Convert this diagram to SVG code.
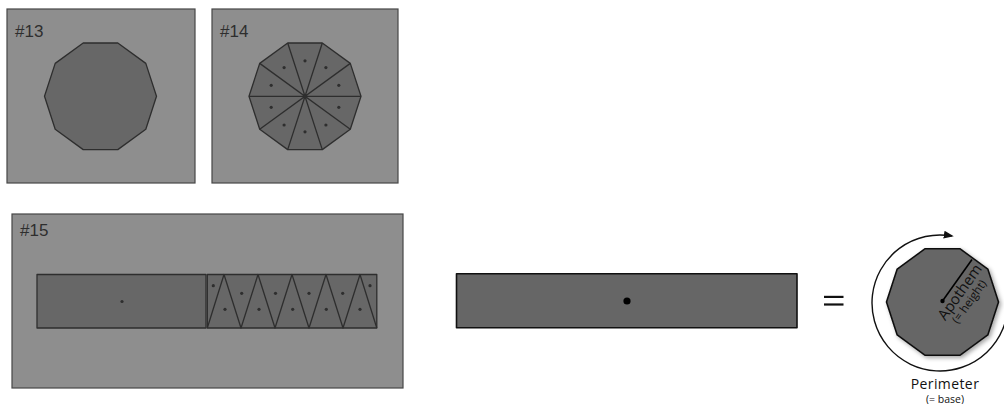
<svg xmlns="http://www.w3.org/2000/svg" width="1004" height="404" viewBox="0 0 1004 404">
<style>
.panel{fill:#8e8e8e;stroke:#474747;stroke-width:1.2}
.shape{fill:#676767;stroke:#2e2e2e;stroke-width:1.3;stroke-linejoin:round}
.line{fill:none;stroke:#2e2e2e;stroke-width:1.3;stroke-linejoin:round}
.dot{fill:#2e2e2e}
.tag{font-family:"Liberation Sans",Arial,sans-serif;font-size:17px;fill:#2e2e2e}
.lbl{font-family:"Open Sans","Noto Sans",sans-serif;fill:#111}
.big{fill:#666;stroke:#111;stroke-width:1.6;stroke-linejoin:round}
</style>
<defs>
<polygon id="deca" points="56,0 45.3,32.9 17.3,53.3 -17.3,53.3 -45.3,32.9 -56,0 -45.3,-32.9 -17.3,-53.3 17.3,-53.3 45.3,-32.9"/>
<marker id="ah" viewBox="0 0 10 10" refX="8" refY="5" markerWidth="10" markerHeight="10" markerUnits="userSpaceOnUse" orient="auto">
<path d="M0,1 L10,5 L0,9 Z" fill="#111"/>
</marker>
<filter id="sh" x="-20%" y="-20%" width="150%" height="150%">
<feDropShadow dx="2" dy="2" stdDeviation="2" flood-color="#000" flood-opacity="0.35"/>
</filter>
</defs>

<g id="panel13">
<rect class="panel" x="7" y="9" width="188" height="174"/>
<text class="tag" x="15" y="36.5">#13</text>
<use href="#deca" class="shape" transform="translate(100.5,96.3)"/>
</g>

<g id="panel14">
<rect class="panel" x="212" y="9" width="186" height="174"/>
<text class="tag" x="220" y="36.5">#14</text>
<g transform="translate(305,96.3)">
<use href="#deca" class="shape"/>
<path class="line" d="M-56,0 L56,0 M-45.3,32.9 L45.3,-32.9 M-17.3,53.3 L17.3,-53.3 M17.3,53.3 L-17.3,-53.3 M45.3,32.9 L-45.3,-32.9"/>
<g class="dot">
<circle cx="33.8" cy="11" r="1.6"/><circle cx="20.9" cy="28.7" r="1.6"/><circle cx="0" cy="35.5" r="1.6"/><circle cx="-20.9" cy="28.7" r="1.6"/><circle cx="-33.8" cy="11" r="1.6"/>
<circle cx="-33.8" cy="-11" r="1.6"/><circle cx="-20.9" cy="-28.7" r="1.6"/><circle cx="0" cy="-35.5" r="1.6"/><circle cx="20.9" cy="-28.7" r="1.6"/><circle cx="33.8" cy="-11" r="1.6"/>
<circle cx="0" cy="0" r="2.2"/>
</g>
</g>
</g>

<g id="panel15">
<rect class="panel" x="12" y="214" width="391" height="174"/>
<text class="tag" x="20" y="236">#15</text>
<rect class="shape" x="37" y="274.5" width="169" height="53.5"/>
<circle class="dot" cx="122" cy="301.5" r="1.6"/>
<rect class="shape" x="207.3" y="274.5" width="169.5" height="53.5"/>
<polyline class="line" points="207.3,328 224,274.5 241,328 258,274.5 275,328 292,274.5 309,328 326,274.5 343,328 360,274.5 376.8,328"/>
<g class="dot">
<circle cx="213.3" cy="285.7" r="1.6"/>
<circle cx="225" cy="309.3" r="1.6"/><circle cx="259" cy="309.3" r="1.6"/><circle cx="292.7" cy="309.3" r="1.6"/><circle cx="326.3" cy="309.3" r="1.6"/><circle cx="360" cy="309.3" r="1.6"/>
<circle cx="241.7" cy="293.3" r="1.6"/><circle cx="275.5" cy="293.3" r="1.6"/><circle cx="309" cy="293.3" r="1.6"/><circle cx="342.7" cy="293.3" r="1.6"/>
<circle cx="370" cy="285.7" r="1.6"/>
</g>
</g>

<g id="rectangle">
<rect class="big" x="456.5" y="273.8" width="340.5" height="54"/>
<circle cx="627" cy="301" r="3.6" fill="#000"/>
</g>

<g id="equals">
<rect x="824" y="295.8" width="19.5" height="2.2" fill="#111"/>
<rect x="824" y="303.4" width="19.5" height="2.2" fill="#111"/>
</g>

<g id="decagon">
<use href="#deca" class="big" filter="url(#sh)" transform="translate(942.5,302)"/>
<line x1="942.5" y1="301" x2="972" y2="259.5" stroke="#000" stroke-width="1.6"/>
<circle cx="942.5" cy="301" r="2.2" fill="#000"/>
<g transform="translate(942.5,301) rotate(-54.5)">
<text class="lbl" x="-15" y="14" font-size="15">Apothem</text>
<text class="lbl" x="-10" y="26" font-size="11.5">(= height)</text>
</g>
</g>

<g id="connectors">
<path d="M1008,303 A68,68 0 1 1 951.8,236" fill="none" stroke="#111" stroke-width="1.4" marker-end="url(#ah)"/>
</g>

<g id="labels">
<text class="lbl" x="945" y="389" font-size="14" text-anchor="middle" letter-spacing="0.4">Perimeter</text>
<text class="lbl" x="945" y="403" font-size="10.5" text-anchor="middle">(= base)</text>
</g>
</svg>
